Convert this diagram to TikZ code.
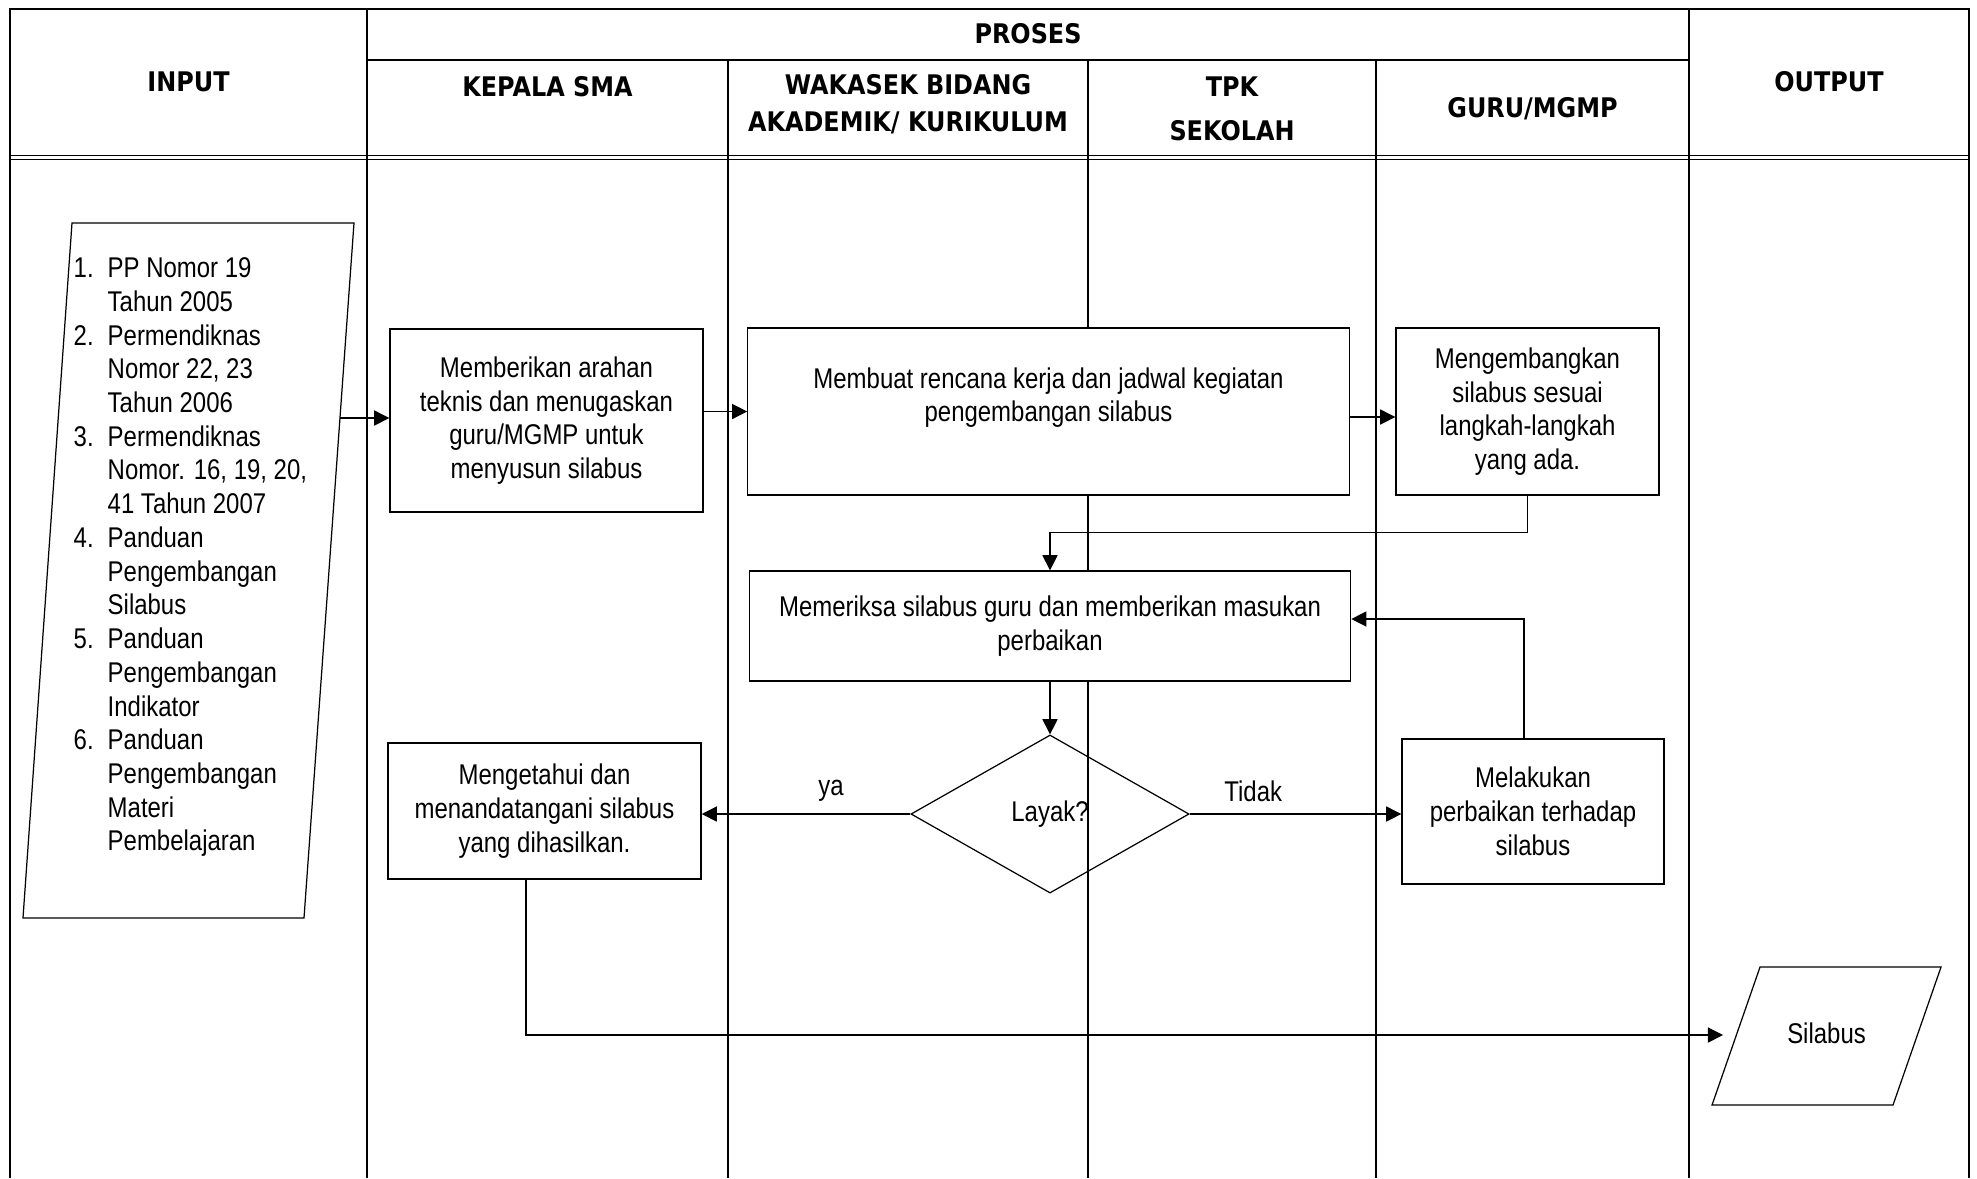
\documentclass[tikz,border=0pt]{standalone}
\usepackage{fontspec}
\setmainfont{Liberation Sans}[FakeStretch=0.84]
\newfontfamily\headfont{DejaVu Sans}[FakeStretch=0.885]
\usetikzlibrary{shapes.geometric,arrows.meta,positioning}

\newcommand{\lnum}[1]{\makebox[0.34cm][l]{#1}}

\tikzset{
    frame/.style={line width=0.6pt},
    lane/.style={line width=0.4pt},
    head/.style={font=\headfont\bfseries\fontsize{7.68pt}{10.5pt}\selectfont, align=center, inner sep=0pt},
    box/.style={draw, fill=white, line width=0.35pt, align=center, inner sep=0pt},
    para/.style={line width=0.35pt, line join=miter},
    arr/.style={-{Triangle[length=4.3pt,width=4.3pt]}, line width=0.35pt},
}

\begin{document}
\begin{tikzpicture}[x=0.01cm, y=-0.01cm, font=\fontsize{8.11pt}{9.59pt}\selectfont]
        \useasboundingbox (0,0) rectangle (1977,1178);

        % table
        \draw[frame] (10,1178) -- (10,9) -- (1969,9) -- (1969,1178);
        \draw[frame] (367,60) -- (1689,60);
        \draw[lane] (10,155.7) -- (1969,155.7);
        \draw[lane] (10,159.3) -- (1969,159.3);
        \foreach \xx in {367,1689} \draw[lane] (\xx,9) -- (\xx,1178);
        \foreach \xx in {728,1088,1376} \draw[lane] (\xx,60) -- (\xx,1178);

        % header
        \node[head] (hinput) at (188.5,82) {INPUT};
        \node[head] (hproses) at (1028,34) {PROSES};
        \node[head] (houtput) at (1829,82) {OUTPUT};
        \node[head] (hkepala) at (547.5,87) {KEPALA SMA};
        \node[head] (hwakasek) at (908,104.5) {WAKASEK BIDANG\\AKADEMIK/ KURIKULUM};
        \node[head] (htpk) at (1232,109) {TPK\\[0.07cm]SEKOLAH};
        \node[head] (hguru) at (1532.5,109) {GURU/MGMP};

        % input
        \draw[para] (72,223) -- (354,223) -- (304,918) -- (23,918) -- cycle;
        \coordinate (dasar) at (340,418);
        \node[anchor=north west, align=left, inner sep=0pt] (dasarlist) at (73,257)
            {\lnum{1.}PP Nomor 19\\\lnum{}Tahun 2005\\
             \lnum{2.}Permendiknas\\\lnum{}Nomor 22, 23\\\lnum{}Tahun 2006\\
             \lnum{3.}Permendiknas\\\lnum{}Nomor. 16, 19, 20,\\\lnum{}41 Tahun 2007\\
             \lnum{4.}Panduan\\\lnum{}Pengembangan\\\lnum{}Silabus\\
             \lnum{5.}Panduan\\\lnum{}Pengembangan\\\lnum{}Indikator\\
             \lnum{6.}Panduan\\\lnum{}Pengembangan\\\lnum{}Materi\\\lnum{}Pembelajaran};

        % process
        \node[box, minimum width=3.13cm, minimum height=1.83cm] (arahan) at (546.5,420.5)
            {Memberikan arahan\\teknis dan menugaskan\\guru/MGMP untuk\\menyusun silabus};
        \node[box, minimum width=6.01cm, minimum height=1.67cm] (rencana) at (1048.5,411.5)
            {Membuat rencana kerja dan jadwal kegiatan\\pengembangan silabus\\\mbox{}};
        \node[box, minimum width=2.63cm, minimum height=1.67cm] (kembang) at (1527.5,411.5)
            {Mengembangkan\\silabus sesuai\\langkah-langkah\\yang ada.};
        \node[box, minimum width=6.01cm, minimum height=1.10cm] (periksa) at (1050,626)
            {Memeriksa silabus guru dan memberikan masukan\\perbaikan};
        \node[draw, diamond, line width=0.35pt, inner sep=0pt,
            minimum width=2.78cm, minimum height=1.58cm] (layak) at (1050,814) {Layak?};
        \node[box, minimum width=3.13cm, minimum height=1.36cm] (tahu) at (544.5,811)
            {Mengetahui dan\\menandatangani silabus\\yang dihasilkan.};
        \node[box, minimum width=2.62cm, minimum height=1.45cm] (baiki) at (1533,811.5)
            {Melakukan\\perbaikan terhadap\\silabus};

        % output
        \draw[para] (1760,967) -- (1941,967) -- (1893,1105) -- (1712,1105) -- cycle;
        \node (silabus) at (1826.5,1033) {Silabus};
        \coordinate (silabusin) at (1723,1035);

        % arrows
        \draw[arr] (dasar) -- (dasar -| arahan.west);
        \draw[arr] (arahan.east |- rencana.west) -- (rencana.west);
        \draw[arr] ([yshift=-0.055cm]rencana.east) -- ([yshift=-0.055cm]kembang.west);
        \draw[arr] (kembang.south) -- ++(0,37) -| (periksa.north);
        \draw[arr] (periksa.south) -- (layak.north);
        \draw[arr] (layak.east) -- (layak.east -| baiki.west) node[pos=0.3, above] (tidak) {Tidak};
        \draw[arr] (layak.west) -- (layak.west -| tahu.east) node[pos=0.38, above] (ya) {ya};
        \draw[arr] ([xshift=-0.09cm]baiki.north) |- ([yshift=0.07cm]periksa.east);
        \draw[arr] ([xshift=-0.185cm]tahu.south) |- (silabusin);

    \end{tikzpicture}
\end{document}
